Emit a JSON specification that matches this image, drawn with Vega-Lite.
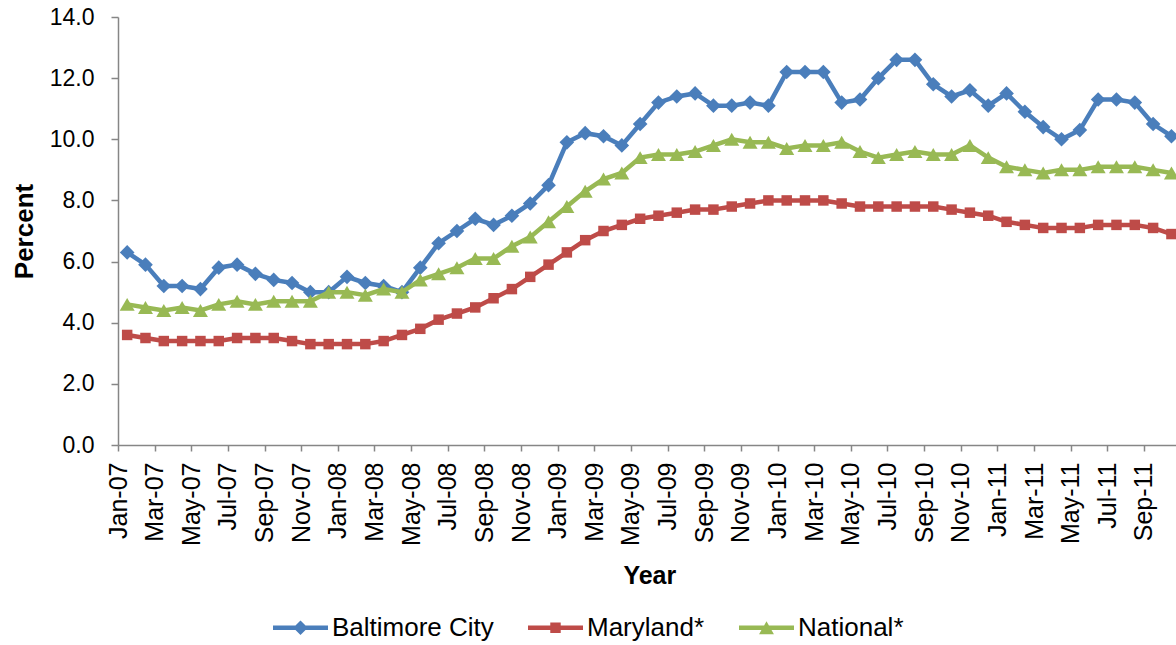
{
  "$schema": "https://vega.github.io/schema/vega-lite/v6.json",
  "width": 1058,
  "height": 428,
  "autosize": "none",
  "padding": {"left": 118, "top": 17, "right": 0, "bottom": 200},
  "background": "white",
  "config": {"font": "Liberation Sans", "view": {"stroke": null}, "axis": {"grid": false}},
  "data": {"values": [
    {"month":"Jan-07","Baltimore City":6.3,"Maryland*":3.6,"National*":4.6},
    {"month":"Feb-07","Baltimore City":5.9,"Maryland*":3.5,"National*":4.5},
    {"month":"Mar-07","Baltimore City":5.2,"Maryland*":3.4,"National*":4.4},
    {"month":"Apr-07","Baltimore City":5.2,"Maryland*":3.4,"National*":4.5},
    {"month":"May-07","Baltimore City":5.1,"Maryland*":3.4,"National*":4.4},
    {"month":"Jun-07","Baltimore City":5.8,"Maryland*":3.4,"National*":4.6},
    {"month":"Jul-07","Baltimore City":5.9,"Maryland*":3.5,"National*":4.7},
    {"month":"Aug-07","Baltimore City":5.6,"Maryland*":3.5,"National*":4.6},
    {"month":"Sep-07","Baltimore City":5.4,"Maryland*":3.5,"National*":4.7},
    {"month":"Oct-07","Baltimore City":5.3,"Maryland*":3.4,"National*":4.7},
    {"month":"Nov-07","Baltimore City":5.0,"Maryland*":3.3,"National*":4.7},
    {"month":"Dec-07","Baltimore City":5.0,"Maryland*":3.3,"National*":5.0},
    {"month":"Jan-08","Baltimore City":5.5,"Maryland*":3.3,"National*":5.0},
    {"month":"Feb-08","Baltimore City":5.3,"Maryland*":3.3,"National*":4.9},
    {"month":"Mar-08","Baltimore City":5.2,"Maryland*":3.4,"National*":5.1},
    {"month":"Apr-08","Baltimore City":5.0,"Maryland*":3.6,"National*":5.0},
    {"month":"May-08","Baltimore City":5.8,"Maryland*":3.8,"National*":5.4},
    {"month":"Jun-08","Baltimore City":6.6,"Maryland*":4.1,"National*":5.6},
    {"month":"Jul-08","Baltimore City":7.0,"Maryland*":4.3,"National*":5.8},
    {"month":"Aug-08","Baltimore City":7.4,"Maryland*":4.5,"National*":6.1},
    {"month":"Sep-08","Baltimore City":7.2,"Maryland*":4.8,"National*":6.1},
    {"month":"Oct-08","Baltimore City":7.5,"Maryland*":5.1,"National*":6.5},
    {"month":"Nov-08","Baltimore City":7.9,"Maryland*":5.5,"National*":6.8},
    {"month":"Dec-08","Baltimore City":8.5,"Maryland*":5.9,"National*":7.3},
    {"month":"Jan-09","Baltimore City":9.9,"Maryland*":6.3,"National*":7.8},
    {"month":"Feb-09","Baltimore City":10.2,"Maryland*":6.7,"National*":8.3},
    {"month":"Mar-09","Baltimore City":10.1,"Maryland*":7.0,"National*":8.7},
    {"month":"Apr-09","Baltimore City":9.8,"Maryland*":7.2,"National*":8.9},
    {"month":"May-09","Baltimore City":10.5,"Maryland*":7.4,"National*":9.4},
    {"month":"Jun-09","Baltimore City":11.2,"Maryland*":7.5,"National*":9.5},
    {"month":"Jul-09","Baltimore City":11.4,"Maryland*":7.6,"National*":9.5},
    {"month":"Aug-09","Baltimore City":11.5,"Maryland*":7.7,"National*":9.6},
    {"month":"Sep-09","Baltimore City":11.1,"Maryland*":7.7,"National*":9.8},
    {"month":"Oct-09","Baltimore City":11.1,"Maryland*":7.8,"National*":10.0},
    {"month":"Nov-09","Baltimore City":11.2,"Maryland*":7.9,"National*":9.9},
    {"month":"Dec-09","Baltimore City":11.1,"Maryland*":8.0,"National*":9.9},
    {"month":"Jan-10","Baltimore City":12.2,"Maryland*":8.0,"National*":9.7},
    {"month":"Feb-10","Baltimore City":12.2,"Maryland*":8.0,"National*":9.8},
    {"month":"Mar-10","Baltimore City":12.2,"Maryland*":8.0,"National*":9.8},
    {"month":"Apr-10","Baltimore City":11.2,"Maryland*":7.9,"National*":9.9},
    {"month":"May-10","Baltimore City":11.3,"Maryland*":7.8,"National*":9.6},
    {"month":"Jun-10","Baltimore City":12.0,"Maryland*":7.8,"National*":9.4},
    {"month":"Jul-10","Baltimore City":12.6,"Maryland*":7.8,"National*":9.5},
    {"month":"Aug-10","Baltimore City":12.6,"Maryland*":7.8,"National*":9.6},
    {"month":"Sep-10","Baltimore City":11.8,"Maryland*":7.8,"National*":9.5},
    {"month":"Oct-10","Baltimore City":11.4,"Maryland*":7.7,"National*":9.5},
    {"month":"Nov-10","Baltimore City":11.6,"Maryland*":7.6,"National*":9.8},
    {"month":"Dec-10","Baltimore City":11.1,"Maryland*":7.5,"National*":9.4},
    {"month":"Jan-11","Baltimore City":11.5,"Maryland*":7.3,"National*":9.1},
    {"month":"Feb-11","Baltimore City":10.9,"Maryland*":7.2,"National*":9.0},
    {"month":"Mar-11","Baltimore City":10.4,"Maryland*":7.1,"National*":8.9},
    {"month":"Apr-11","Baltimore City":10.0,"Maryland*":7.1,"National*":9.0},
    {"month":"May-11","Baltimore City":10.3,"Maryland*":7.1,"National*":9.0},
    {"month":"Jun-11","Baltimore City":11.3,"Maryland*":7.2,"National*":9.1},
    {"month":"Jul-11","Baltimore City":11.3,"Maryland*":7.2,"National*":9.1},
    {"month":"Aug-11","Baltimore City":11.2,"Maryland*":7.2,"National*":9.1},
    {"month":"Sep-11","Baltimore City":10.5,"Maryland*":7.1,"National*":9.0},
    {"month":"Oct-11","Baltimore City":10.1,"Maryland*":6.9,"National*":8.9}
  ]},
  "transform": [{"fold": ["Baltimore City", "Maryland*", "National*"], "as": ["series", "value"]}],
  "encoding": {
    "x": {
      "field": "month", "type": "ordinal",
      "scale": {"type": "point", "padding": 0.5, "range": [0, 1062.6], "domain": ["Jan-07","Feb-07","Mar-07","Apr-07","May-07","Jun-07","Jul-07","Aug-07","Sep-07","Oct-07","Nov-07","Dec-07","Jan-08","Feb-08","Mar-08","Apr-08","May-08","Jun-08","Jul-08","Aug-08","Sep-08","Oct-08","Nov-08","Dec-08","Jan-09","Feb-09","Mar-09","Apr-09","May-09","Jun-09","Jul-09","Aug-09","Sep-09","Oct-09","Nov-09","Dec-09","Jan-10","Feb-10","Mar-10","Apr-10","May-10","Jun-10","Jul-10","Aug-10","Sep-10","Oct-10","Nov-10","Dec-10","Jan-11","Feb-11","Mar-11","Apr-11","May-11","Jun-11","Jul-11","Aug-11","Sep-11","Oct-11"]},
      "axis": {
        "values": ["Jan-07","Mar-07","May-07","Jul-07","Sep-07","Nov-07","Jan-08","Mar-08","May-08","Jul-08","Sep-08","Nov-08","Jan-09","Mar-09","May-09","Jul-09","Sep-09","Nov-09","Jan-10","Mar-10","May-10","Jul-10","Sep-10","Nov-10","Jan-11","Mar-11","May-11","Jul-11","Sep-11"],
        "labelAngle": -90, "labelAlign": "right", "labelBaseline": "middle",
        "labelFontSize": 25, "labelColor": "black", "labelPadding": 11, "labelOverlap": false,
        "tickSize": 6, "tickOffset": -9.16, "tickColor": "#868686", "tickWidth": 1.5,
        "domainColor": "#868686", "domainWidth": 1.5,
        "title": "Year", "titleFontSize": 25, "titleFontWeight": "bold", "titleColor": "black",
        "titleY": 138, "titleBaseline": "alphabetic"
      }
    },
    "y": {
      "field": "value", "type": "quantitative",
      "scale": {"domain": [0, 14], "nice": false},
      "axis": {
        "values": [0, 2, 4, 6, 8, 10, 12, 14], "format": ".1f",
        "labelFontSize": 23, "labelColor": "black", "labelPadding": 17,
        "tickSize": 7, "tickColor": "#868686", "tickWidth": 1.5,
        "domainColor": "#868686", "domainWidth": 1.5,
        "title": "Percent", "titleFontSize": 26, "titleFontWeight": "bold", "titleColor": "black",
        "titleX": -86, "titleY": 214, "titleBaseline": "alphabetic", "titleAngle": -90
      }
    },
    "color": {
      "field": "series", "type": "nominal",
      "scale": {"domain": ["Baltimore City", "Maryland*", "National*"], "range": ["#4A7EBB", "#BE4B48", "#98B954"]},
      "legend": {
        "orient": "none", "legendX": 155, "legendY": 583, "direction": "horizontal", "title": null,
        "symbolSize": 3025, "labelFontSize": 26, "labelColor": "black", "labelOffset": 4, "columnPadding": 34,
        "labelLimit": 400,
        "symbolType": "M-1,-0.08H1V0.08H-1Z", "symbolStrokeWidth": 0,
        "encode": {"symbols": {"update": {
          "shape": {"signal": "datum.value === 'Baltimore City' ? 'M-1,-0.08H1V0.08H-1Z M0,-0.265L0.265,0L0,0.265L-0.265,0Z' : datum.value === 'Maryland*' ? 'M-1,-0.08H1V0.08H-1Z M-0.19,-0.19H0.19V0.19H-0.19Z' : 'M-1,-0.08H1V0.08H-1Z M0,-0.24L0.27,0.24H-0.27Z'"},
          "fill": {"signal": "datum.value === 'Baltimore City' ? '#4A7EBB' : datum.value === 'Maryland*' ? '#BE4B48' : '#98B954'"},
          "strokeWidth": {"value": 0},
          "opacity": {"value": 1}
        }}}
      }
    }
  },
  "layer": [
    {"transform": [{"filter": "datum.series === 'Baltimore City'"}], "mark": {"type": "line", "strokeWidth": 4.5}},
    {"transform": [{"filter": "datum.series === 'Baltimore City'"}], "mark": {"type": "point", "shape": "diamond", "filled": true, "opacity": 1, "size": 215}},
    {"transform": [{"filter": "datum.series === 'Maryland*'"}], "mark": {"type": "line", "strokeWidth": 4.5}},
    {"transform": [{"filter": "datum.series === 'Maryland*'"}], "mark": {"type": "point", "shape": "square", "filled": true, "opacity": 1, "size": 110}},
    {"transform": [{"filter": "datum.series === 'National*'"}], "mark": {"type": "line", "strokeWidth": 4.5}},
    {"transform": [{"filter": "datum.series === 'National*'"}], "mark": {"type": "point", "shape": "triangle-up", "filled": true, "opacity": 1, "size": 225}}
  ]
}
